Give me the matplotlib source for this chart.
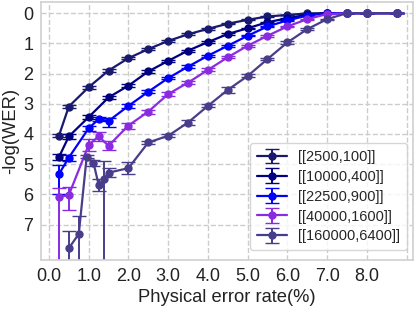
import numpy as np
import matplotlib
matplotlib.use('Agg')
import matplotlib.pyplot as plt
import seaborn as sns

# physical error rate (%) and -log(WER) per code
x_s1 = [0.25, 0.5, 1.0, 1.5, 2.0, 2.5, 3.0, 3.5, 4.0, 4.5, 5.0, 5.5, 6.0, 6.5, 7.0, 7.5, 8.0, 8.75]
y_s1 = [4.06, 3.09, 2.45, 1.90, 1.49, 1.19, 0.92, 0.70, 0.52, 0.35, 0.22, 0.11, 0.06, 0.01, 0.0, 0.0, 0.0, 0.0]
e_s1 = [0.05, 0.05, 0.05, 0.04, 0.04, 0.03, 0.03, 0.03, 0.03, 0.02, 0.02, 0.02, 0.01, 0.01, 0.0, 0.0, 0.0, 0.0]

x_s2 = [0.25, 0.5, 1.0, 1.5, 2.0, 2.5, 3.0, 3.5, 4.0, 4.5, 5.0, 5.5, 6.0, 6.5, 7.0, 7.5, 8.0, 8.75]
y_s2 = [4.77, 4.08, 3.44, 2.79, 2.40, 1.93, 1.58, 1.24, 0.96, 0.69, 0.50, 0.30, 0.17, 0.05, 0.0, 0.0, 0.0, 0.0]
e_s2 = [0.10, 0.08, 0.06, 0.05, 0.04, 0.04, 0.03, 0.03, 0.03, 0.02, 0.02, 0.02, 0.01, 0.01, 0.0, 0.0, 0.0, 0.0]

x_s3 = [0.25, 0.5, 1.0, 1.25, 1.5, 2.0, 2.5, 3.0, 3.5, 4.0, 4.5, 5.0, 5.5, 6.0, 6.5, 7.0, 7.5, 8.0, 8.75]
y_s3 = [5.33, 4.78, 3.81, 3.51, 3.57, 3.07, 2.60, 2.15, 1.77, 1.41, 1.08, 0.75, 0.44, 0.24, 0.08, 0.0, 0.0, 0.0, 0.0]
lo_s3 = [0.64, 0.10, 0.08, 0.06, 0.20, 0.06, 0.05, 0.04, 0.04, 0.03, 0.03, 0.02, 0.02, 0.01, 0.01, 0.0, 0.0, 0.0, 0.0]
up_s3 = [0.30, 0.10, 0.08, 0.06, 0.10, 0.06, 0.05, 0.04, 0.04, 0.03, 0.03, 0.02, 0.02, 0.01, 0.01, 0.0, 0.0, 0.0, 0.0]

x_s4 = [0.25, 0.5, 1.0, 1.25, 1.5, 2.0, 2.5, 3.0, 3.5, 4.0, 4.5, 5.0, 5.5, 6.0, 6.5, 7.0, 7.5, 8.0, 8.75]
y_s4 = [6.09, 6.02, 4.36, 4.08, 4.39, 3.72, 3.26, 2.68, 2.30, 1.88, 1.46, 1.08, 0.75, 0.44, 0.20, 0.03, 0.0, 0.0, 0.0]
lo_s4 = [3.00, 0.50, 0.20, 0.15, 0.15, 0.10, 0.07, 0.06, 0.05, 0.05, 0.04, 0.03, 0.03, 0.02, 0.02, 0.01, 0.0, 0.0, 0.0]
up_s4 = [0.29, 0.27, 0.20, 0.15, 0.15, 0.10, 0.07, 0.06, 0.05, 0.05, 0.04, 0.03, 0.03, 0.02, 0.02, 0.01, 0.0, 0.0, 0.0]

x_s5 = [0.5, 0.75, 0.95, 1.12, 1.25, 1.38, 1.5, 2.0, 2.5, 3.0, 3.5, 4.0, 4.5, 5.0, 5.5, 6.0, 6.5, 7.0, 7.5, 8.0, 8.75]
y_s5 = [7.78, 7.31, 4.75, 4.95, 5.68, 5.50, 5.28, 5.13, 4.28, 4.06, 3.62, 3.07, 2.54, 2.08, 1.52, 0.97, 0.53, 0.20, 0.0, 0.0, 0.0]
lo_s5 = [3.00, 3.00, 0.05, 0.10, 0.20, 3.00, 0.15, 0.20, 0.05, 0.05, 0.08, 0.05, 0.09, 0.05, 0.04, 0.04, 0.03, 0.02, 0.0, 0.0, 0.0]
up_s5 = [0.58, 0.58, 0.05, 0.10, 0.20, 0.60, 0.15, 0.20, 0.05, 0.05, 0.08, 0.05, 0.09, 0.05, 0.04, 0.04, 0.03, 0.02, 0.0, 0.0, 0.0]

labels = ['[[2500,100]]', '[[10000,400]]', '[[22500,900]]', '[[40000,1600]]', '[[160000,6400]]']
colors = ['midnightblue', 'navy', 'blue', 'blueviolet', 'darkslateblue']

sns.set_style('whitegrid', {'grid.linestyle': '--', 'axes.edgecolor': '#d0d0d0'})
plt.rcParams['font.family'] = ['Liberation Sans', 'DejaVu Sans']

fig = plt.figure(figsize=(4.16, 3.12), dpi=100)
ax = fig.add_axes([0.0986, 0.1667, 0.894, 0.827])

series = [
    (x_s1, y_s1, [e_s1, e_s1]),
    (x_s2, y_s2, [e_s2, e_s2]),
    (x_s3, y_s3, [lo_s3, up_s3]),
    (x_s4, y_s4, [lo_s4, up_s4]),
    (x_s5, y_s5, [lo_s5, up_s5]),
]
for (xs, ys, err), lab, col in zip(series, labels, colors):
    # y axis is inverted, so lower error (toward larger values) comes first as "plus"
    ax.errorbar(xs, ys, yerr=[err[1], err[0]], color=col, label=lab,
                marker='o', markersize=5, linewidth=1.6, capsize=4.8, elinewidth=1.4)

ax.set_xlim(-0.2, 9.16)
ax.set_ylim(8.17, -0.37)
ax.set_xticks(range(10))
ax.set_xticklabels([f'{v:.1f}' for v in range(9)] + [''])
ax.set_yticks(range(8))
ax.tick_params(labelsize=13, pad=2, colors='#222222')
for s in ax.spines.values():
    s.set_linewidth(1.2)
ax.grid(True, linestyle='--', color='#cccccc', linewidth=1.0)

ax.set_xlabel('Physical error rate(%)', fontsize=13.2, labelpad=3, color='#222222')
ax.set_ylabel('-log(WER)', fontsize=13.2, labelpad=3, color='#222222')
ax.legend(loc='lower right', bbox_to_anchor=(0.984, 0.039), borderaxespad=0,
          fontsize=10.5, frameon=True, handlelength=2.1, handletextpad=0.75,
          labelspacing=0.4, borderpad=0.45)

fig.savefig('out.png', dpi=100)
